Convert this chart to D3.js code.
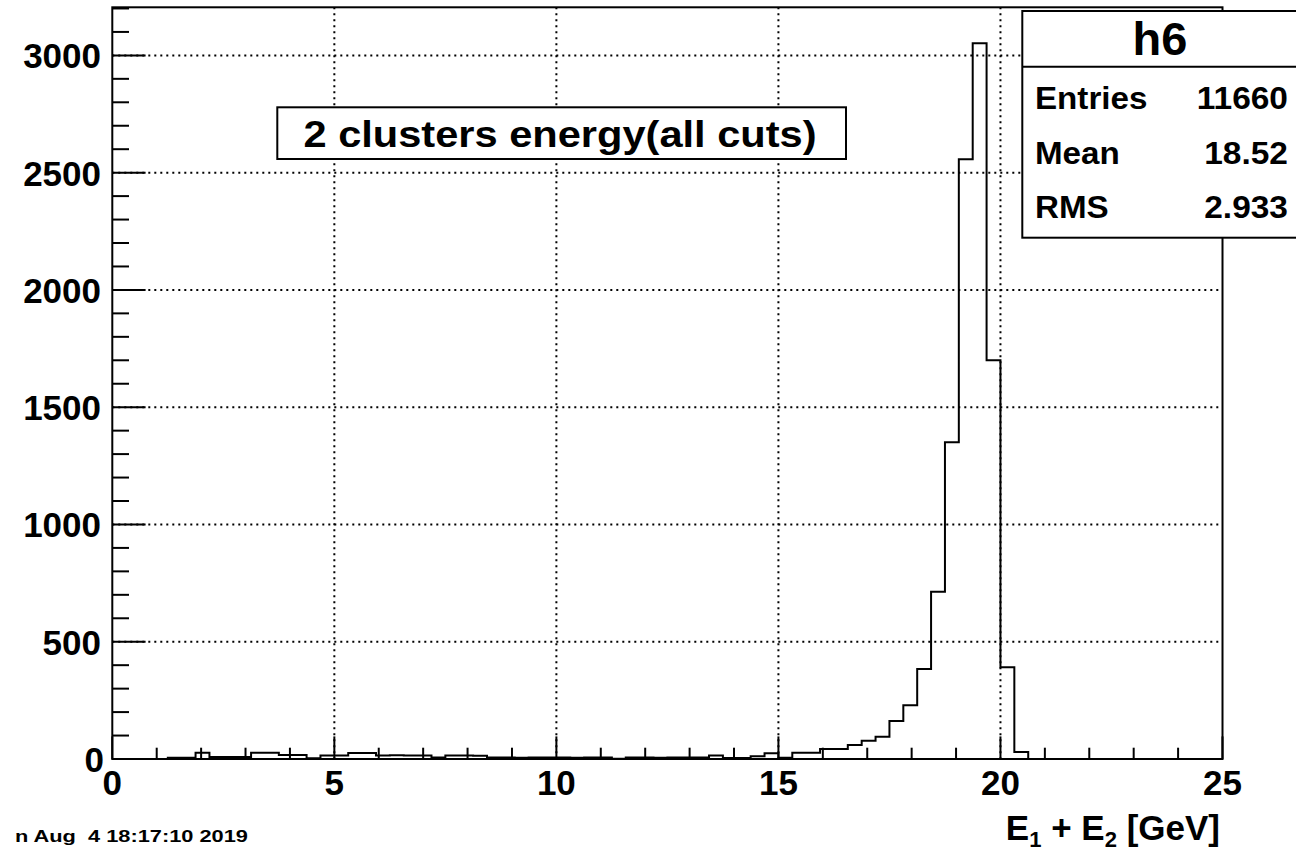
<!DOCTYPE html>
<html>
<head>
<meta charset="utf-8">
<script src="https://cdn.jsdelivr.net/npm/d3@7/dist/d3.min.js"></script>
<style>
  html, body { margin: 0; padding: 0; background: #fff; }
  svg { display: block; font-family: "Liberation Sans", Arial, Helvetica, sans-serif; font-weight: bold; }
</style>
</head>
<body>
<svg width="1296" height="852"></svg>
<script>
// histogram h6: 80 bins over [0, 25]
const xRange = [0, 25];
const nBins = 80;
const counts = [
  0, 0, 0, 0, 5, 5, 27, 8, 8, 8,
  27, 27, 17, 17, 3, 15, 15, 26, 26, 15,
  16, 15, 15, 6, 15, 15, 14, 6, 6, 5,
  6, 6, 6, 5, 6, 6, 1, 6, 6, 5,
  6, 6, 6, 15, 4, 4, 12, 25, 5, 27,
  27, 43, 43, 60, 78, 95, 162, 229, 384, 713,
  1350, 2557, 3052, 1700, 391, 30, 0, 0, 0, 0,
  0, 0, 0, 0, 0, 0, 0, 0, 0, 0
];
const yMax = 3205;
const xMajor = [0, 5, 10, 15, 20, 25];
const yMajor = [0, 500, 1000, 1500, 2000, 2500, 3000];
const statsLabels = ['Entries', 'Mean', 'RMS'];
const statsValues = ['11660', '18.52', '2.933'];
const histName = 'h6';
const title = '2 clusters energy(all cuts)';
const dateText = 'n Aug  4 18:17:10 2019';

const svg = d3.select('svg');
const frameL = 112.3, frameR = 1222.5, frameT = 7.3, frameB = 759;

const x = d3.scaleLinear().domain(xRange).range([frameL, frameR]);
const y = d3.scaleLinear().domain([0, yMax]).range([frameB, frameT]);

const binW = (xRange[1] - xRange[0]) / nBins;

// grid (dotted) at major ticks
const grid = svg.append('g')
  .attr('stroke', '#000')
  .attr('stroke-width', 2)
  .attr('stroke-dasharray', '2 4');
grid.selectAll('.gx')
  .data(xMajor.filter(v => v > xRange[0] && v < xRange[1]))
  .enter().append('line')
  .attr('x1', d => x(d)).attr('x2', d => x(d))
  .attr('y1', frameT).attr('y2', frameB);
grid.selectAll('.gy')
  .data(yMajor.filter(v => v > 0))
  .enter().append('line')
  .attr('y1', d => y(d)).attr('y2', d => y(d))
  .attr('x1', frameL).attr('x2', frameR);

// histogram outline
const pts = [[xRange[0], 0]];
counts.forEach((c, i) => {
  pts.push([xRange[0] + i * binW, c]);
  pts.push([xRange[0] + (i + 1) * binW, c]);
});
pts.push([xRange[1], 0]);
const line = d3.line().x(d => x(d[0])).y(d => y(d[1]));
svg.append('path')
  .attr('d', line(pts))
  .attr('fill', 'none')
  .attr('stroke', '#000')
  .attr('stroke-width', 2);

// frame
svg.append('rect')
  .attr('x', frameL).attr('y', frameT)
  .attr('width', frameR - frameL).attr('height', frameB - frameT)
  .attr('fill', 'none').attr('stroke', '#000').attr('stroke-width', 2);

// x ticks
const xt = svg.append('g').attr('stroke', '#000').attr('stroke-width', 2);
const xMinor = d3.range(xRange[0], xRange[1] + 0.001, 1);
xt.selectAll('line').data(xMinor).enter().append('line')
  .attr('x1', d => x(d)).attr('x2', d => x(d))
  .attr('y1', frameB)
  .attr('y2', d => frameB - (d % 5 === 0 ? 22.6 : 11.3));

// y ticks
const yt = svg.append('g').attr('stroke', '#000').attr('stroke-width', 2);
const yMinor = d3.range(0, yMax, 100);
yt.selectAll('line').data(yMinor).enter().append('line')
  .attr('y1', d => y(d)).attr('y2', d => y(d))
  .attr('x1', frameL)
  .attr('x2', d => frameL + (d % 500 === 0 ? 33.3 : 16.7));

// tick labels
svg.append('g').selectAll('text').data(xMajor).enter().append('text')
  .attr('x', d => x(d)).attr('y', 795)
  .attr('text-anchor', 'middle')
  .attr('font-size', 35)
  .text(d => d);

svg.append('g').selectAll('text').data(yMajor).enter().append('text')
  .attr('x', d => d === 0 ? 104 : 101).attr('y', d => y(d) + 13)
  .attr('text-anchor', 'end')
  .attr('font-size', 35)
  .text(d => d);

// x axis title
const xt2 = svg.append('text')
  .attr('x', 1220).attr('y', 840)
  .attr('text-anchor', 'end')
  .attr('font-size', 35);
xt2.append('tspan').text('E');
xt2.append('tspan').attr('font-size', 22).attr('dy', 7).text('1');
xt2.append('tspan').attr('dy', -7).text(' + E');
xt2.append('tspan').attr('font-size', 22).attr('dy', 7).text('2');
xt2.append('tspan').attr('dy', -7).text(' [GeV]');

// title box
svg.append('rect')
  .attr('x', 277.3).attr('y', 107.3)
  .attr('width', 846 - 277.3).attr('height', 159 - 107.3)
  .attr('fill', '#fff').attr('stroke', '#000').attr('stroke-width', 2);
svg.append('text')
  .attr('x', 560).attr('y', 146.5)
  .attr('text-anchor', 'middle')
  .attr('font-size', 36)
  .attr('textLength', 513)
  .attr('lengthAdjust', 'spacingAndGlyphs')
  .text(title);

// stats box
const sb = svg.append('g');
sb.append('rect')
  .attr('x', 1022.3).attr('y', 11)
  .attr('width', 300).attr('height', 237.7 - 11)
  .attr('fill', '#fff').attr('stroke', '#000').attr('stroke-width', 2);
sb.append('line')
  .attr('x1', 1022.3).attr('x2', 1300)
  .attr('y1', 66.7).attr('y2', 66.7)
  .attr('stroke', '#000').attr('stroke-width', 2);
sb.append('text')
  .attr('x', 1160).attr('y', 55)
  .attr('text-anchor', 'middle')
  .attr('font-size', 47)
  .text(histName);
const rowY = [109.3, 164.5, 218.3];
statsLabels.forEach((lab, i) => {
  sb.append('text')
    .attr('x', 1035).attr('y', rowY[i])
    .attr('font-size', 31)
    .attr('transform', `translate(1035,0) scale(1.07,1) translate(-1035,0)`)
    .text(lab);
  sb.append('text')
    .attr('x', 1288).attr('y', rowY[i])
    .attr('text-anchor', 'end')
    .attr('font-size', 31)
    .attr('transform', `translate(1288,0) scale(1.08,1) translate(-1288,0)`)
    .text(statsValues[i]);
});

// date stamp
svg.append('text')
  .attr('x', 15).attr('y', 841.7)
  .attr('font-size', 17)
  .attr('xml:space', 'preserve')
  .style('white-space', 'pre')
  .attr('textLength', 233)
  .attr('lengthAdjust', 'spacingAndGlyphs')
  .text(dateText);
</script>
</body>
</html>
